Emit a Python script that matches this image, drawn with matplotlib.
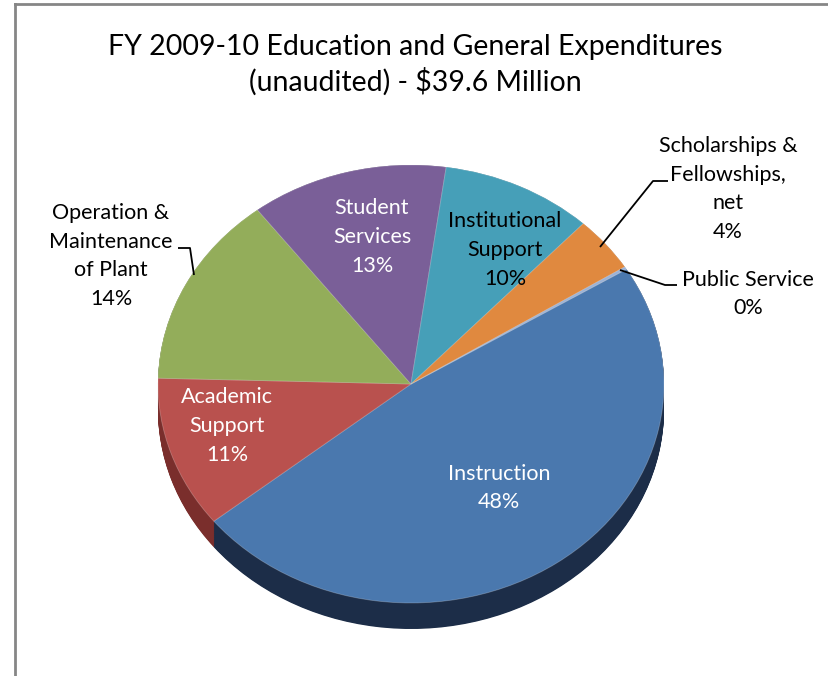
import numpy as np
import matplotlib
matplotlib.use("Agg")
import matplotlib.pyplot as plt

# data (percent of total), clockwise from the Instruction slice
categories = ["Instruction", "Academic Support", "Operation & Maintenance of Plant",
              "Student Services", "Institutional Support",
              "Scholarships & Fellowships, net", "Public Service"]
shares = [48.0, 11.2, 14.2, 12.6, 9.7, 4.1, 0.2]
label_text = ["Instruction", "Academic\nSupport", "Operation &\nMaintenance\nof Plant",
              "Student\nServices", "Institutional\nSupport",
              "Scholarships &\nFellowships,\nnet", "Public Service"]
title = "FY 2009-10 Education and General Expenditures\n(unaudited) - $39.6 Million"

top_colors = ["#4a78ae", "#b9514e", "#93ad5a", "#7a5f98", "#469fb8", "#e0893f", "#9bb2d6"]
side_colors = ["#1c2d48", "#7a2e2c", "#5c6e36", "#4b3a60", "#2b6475", "#8f5526", "#5f7390"]

plt.rcParams['font.family'] = ['Lato', 'DejaVu Sans']

W, H = 829, 676
fig = plt.figure(figsize=(W / 100, H / 100), dpi=100)
ax = fig.add_axes([0, 0, 1, 1])

# pixel geometry of the tilted pie
cx_px, cy_px = 411, 384
rx, ry = 253, 219
depth = 26
k = ry / rx  # vertical squash


def to_data(x, y):
    return x, (H - y) / k


cx, cy = to_data(cx_px, cy_px)

# side of the 3D pie: stacked darker copies
for d in np.linspace(depth, 0, 40):
    ax.pie(shares, colors=side_colors, startangle=31.6, counterclock=False,
           radius=rx, center=(cx, cy - d / k),
           wedgeprops=dict(linewidth=0, edgecolor="none", antialiased=True))

# top surface
ax.pie(shares, colors=top_colors, startangle=31.6, counterclock=False,
       radius=rx, center=(cx, cy),
       wedgeprops=dict(linewidth=0.6, edgecolor=(1, 1, 1, 0.25)))

ax.set_aspect('auto')
ax.set_xlim(0, W)
ax.set_ylim(0, H / k)
ax.axis('off')

# data labels
pcts = ["%.0f%%" % s for s in shares]
label_pos = [(499, 488, "white"), (227, 426, "white"), (111, 256, "black"),
             (372, 237, "white"), (505, 250, "black"), (728, 189, "black"),
             (748, 294, "black")]
for txt, p, (x, y, c) in zip(label_text, pcts, label_pos):
    ax.text(*to_data(x, y), txt + "\n" + p, ha="center", va="center",
            fontsize=15.5, color=c, linespacing=1.55)

# leader lines
leaders = [
    [(600, 247), (653, 181), (668, 181)],
    [(620, 270), (665, 285), (677, 285)],
    [(178, 248), (190, 248), (194, 275)],
]
for pts in leaders:
    xs = [to_data(x, y)[0] for x, y in pts]
    ys = [to_data(x, y)[1] for x, y in pts]
    ax.plot(xs, ys, color="black", lw=1.3, solid_capstyle="butt")

# title
ax.text(*to_data(415, 65), title, ha="center", va="center",
        fontsize=20.5, color="black", linespacing=1.35)

# chart border (left and top edges visible)
ax.plot([to_data(15, 4)[0], to_data(15, H)[0]], [to_data(15, 4)[1], to_data(15, H)[1]],
        color="#868686", lw=2)
ax.plot([to_data(15, 4)[0], to_data(W, 4)[0]], [to_data(15, 4)[1], to_data(W, 4)[1]],
        color="#868686", lw=2)

fig.savefig("out.png", dpi=100)
